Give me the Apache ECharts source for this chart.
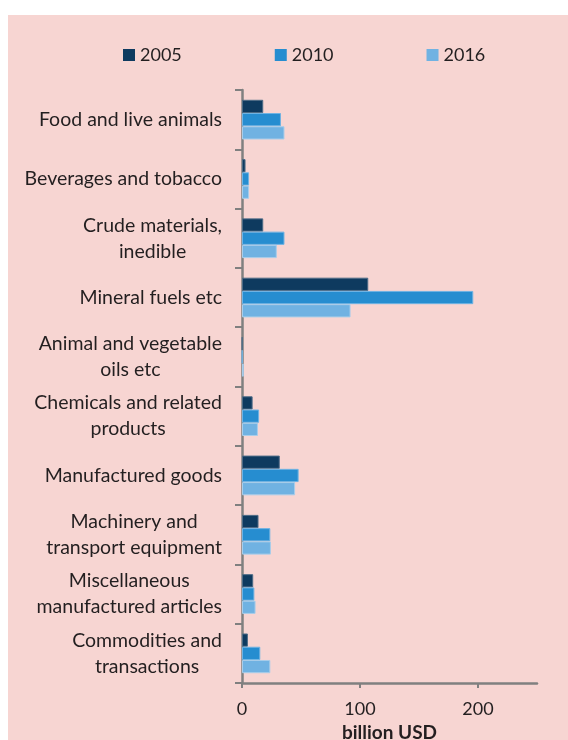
<!DOCTYPE html>
<html>
<head>
<meta charset="utf-8">
<script src="https://cdn.jsdelivr.net/npm/echarts@6/dist/echarts.min.js"></script>
<style>
  html, body { margin: 0; padding: 0; background: #ffffff; }
  #panel { position: absolute; left: 8px; top: 15px; width: 560px; height: 725px; background: #f7d5d2; }
  #chart { position: absolute; left: 0; top: 0; width: 568px; height: 740px; }
</style>
</head>
<body>
<div id="panel"></div>
<div id="chart"></div>
<script>
// Trade by commodity group, billion USD
const categories = [
  'Food and live animals',
  'Beverages and tobacco',
  'Crude materials,\ninedible',
  'Mineral fuels etc',
  'Animal and vegetable\noils etc',
  'Chemicals and related\nproducts',
  'Manufactured goods',
  'Machinery and\ntransport equipment',
  'Miscellaneous\nmanufactured articles',
  'Commodities and\ntransactions'
];
const years = ['2005', '2010', '2016'];
const values2005 = [18, 3, 18, 107, 0.3, 9, 32, 14, 9.5, 5];
const values2010 = [33, 6, 36, 196, 0.3, 14.5, 48, 24, 10.5, 15.5];
const values2016 = [36, 6, 29.5, 92, 1.5, 13.5, 45, 24.5, 11.5, 24];
const xTicks = [0, 100, 200];

const colors = ['#0e3a5f', '#268dd0', '#70b2e2'];
const edgeColors = ['#4d6b86', '#6fb3e3', '#a8cdea'];
const font = 'Lato, "Open Sans", sans-serif';
const textColor = '#231f20';

const seriesData = [values2005, values2010, values2016];

const chart = echarts.init(document.getElementById('chart'), null, { renderer: 'canvas' });
chart.setOption({
  backgroundColor: 'transparent',
  animation: false,
  color: colors,
  legend: {
    data: years,
    left: 118,
    top: 41,
    itemWidth: 12,
    itemHeight: 12,
    itemGap: 93,
    icon: 'rect',
    itemStyle: { borderWidth: 0 },
    textStyle: { fontFamily: font, fontSize: 18, color: textColor }
  },
  grid: { left: 242, right: 31, top: 90, bottom: 57, containLabel: false, outerBoundsMode: 'none' },
  xAxis: {
    type: 'value',
    min: 0,
    max: 250,
    interval: 50,
    name: 'billion USD',
    nameLocation: 'middle',
    nameGap: 38,
    nameTextStyle: { fontFamily: font, fontSize: 19, fontWeight: 'bold', color: textColor },
    splitLine: { show: false },
    axisLine: { show: true, lineStyle: { color: '#808080', width: 2.5 } },
    axisTick: { show: true, length: 5, customValues: xTicks, lineStyle: { color: '#808080', width: 2 } },
    axisLabel: { customValues: xTicks, margin: 17, fontFamily: font, fontSize: 18, color: textColor }
  },
  yAxis: {
    type: 'category',
    data: categories,
    inverse: true,
    axisLine: { show: true, lineStyle: { color: '#808080', width: 2.5 } },
    axisTick: { show: true, length: 7, lineStyle: { color: '#808080', width: 2 } },
    axisLabel: {
      margin: 20,
      align: 'right',
      lineHeight: 26,
      formatter: v => '{c|' + v.split('\n').join('}\n{c|') + '}',
      rich: {
        c: { align: 'center', fontFamily: font, fontSize: 19.5, color: textColor, lineHeight: 26 }
      }
    }
  },
  series: years.map((y, i) => ({
    name: y,
    type: 'bar',
    data: seriesData[i],
    barGap: '0%',
    barCategoryGap: '33%',
    itemStyle: { color: colors[i], borderColor: edgeColors[i], borderWidth: 1 }
  }))
});
</script>
</body>
</html>
